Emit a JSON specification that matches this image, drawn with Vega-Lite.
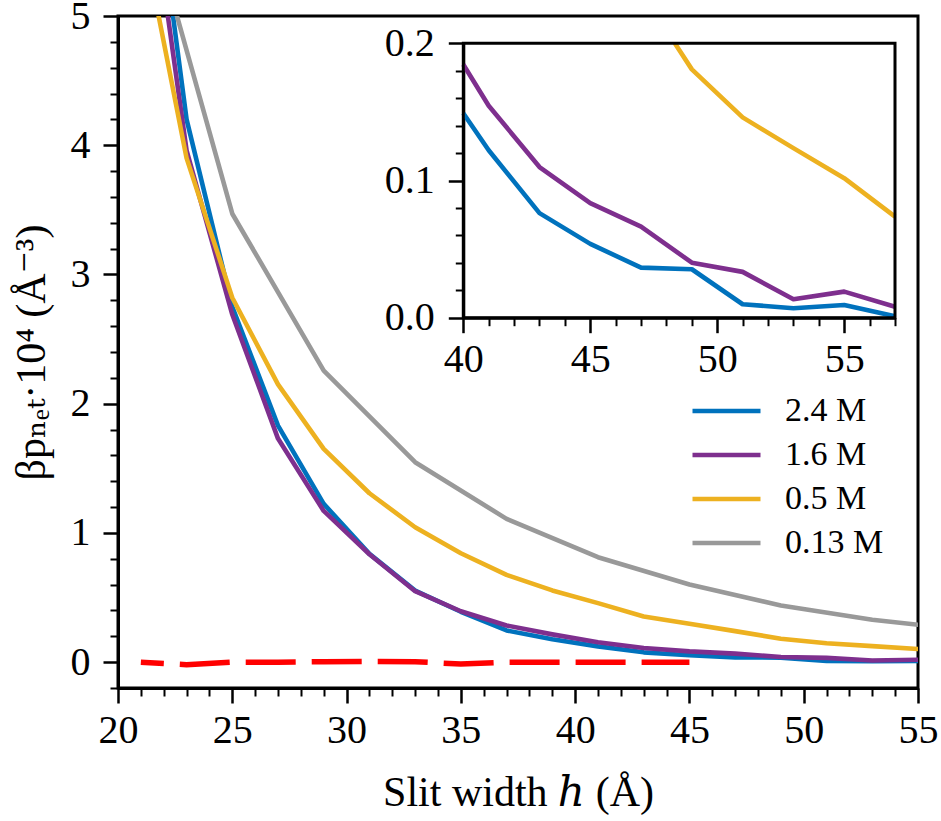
{
  "$schema": "https://vega.github.io/schema/vega-lite/v6.json",
  "autosize": "none",
  "width": 800,
  "height": 672,
  "padding": {"left": 118, "top": 16, "right": 23, "bottom": 133},
  "background": "white",
  "config": {
    "view": {"stroke": "black", "strokeWidth": 3},
    "axis": {
      "grid": false,
      "domainColor": "black",
      "domainWidth": 3,
      "tickColor": "black",
      "labelColor": "black",
      "labelFont": "Liberation Serif, DejaVu Serif",
      "labelFontSize": 40,
      "labelFlush": false,
      "labelOverlap": false,
      "labelBound": false,
      "titleFont": "Liberation Serif, DejaVu Serif",
      "titleFontSize": 42,
      "titleFontWeight": "normal",
      "titleColor": "black"
    }
  },
  "datasets": {
    "main": [
      {"h": 21, "p": 6.9, "s": "2.4 M"}, {"h": 23, "p": 4.2, "s": "2.4 M"}, {"h": 25, "p": 2.75, "s": "2.4 M"},
      {"h": 27, "p": 1.83, "s": "2.4 M"}, {"h": 29, "p": 1.225, "s": "2.4 M"}, {"h": 31, "p": 0.838, "s": "2.4 M"},
      {"h": 33, "p": 0.554, "s": "2.4 M"}, {"h": 35, "p": 0.39, "s": "2.4 M"}, {"h": 37, "p": 0.245, "s": "2.4 M"},
      {"h": 39, "p": 0.178, "s": "2.4 M"}, {"h": 41, "p": 0.122, "s": "2.4 M"}, {"h": 43, "p": 0.076, "s": "2.4 M"},
      {"h": 45, "p": 0.054, "s": "2.4 M"}, {"h": 47, "p": 0.037, "s": "2.4 M"}, {"h": 49, "p": 0.035, "s": "2.4 M"},
      {"h": 51, "p": 0.01, "s": "2.4 M"}, {"h": 53, "p": 0.007, "s": "2.4 M"}, {"h": 55, "p": 0.009, "s": "2.4 M"},
      {"h": 57, "p": 0.001, "s": "2.4 M"},
      {"h": 21, "p": 6.5, "s": "1.6 M"}, {"h": 23, "p": 3.96, "s": "1.6 M"}, {"h": 25, "p": 2.69, "s": "1.6 M"},
      {"h": 27, "p": 1.73, "s": "1.6 M"}, {"h": 29, "p": 1.17, "s": "1.6 M"}, {"h": 31, "p": 0.835, "s": "1.6 M"},
      {"h": 33, "p": 0.549, "s": "1.6 M"}, {"h": 35, "p": 0.394, "s": "1.6 M"}, {"h": 37, "p": 0.284, "s": "1.6 M"},
      {"h": 39, "p": 0.215, "s": "1.6 M"}, {"h": 41, "p": 0.154, "s": "1.6 M"}, {"h": 43, "p": 0.11, "s": "1.6 M"},
      {"h": 45, "p": 0.0835, "s": "1.6 M"}, {"h": 47, "p": 0.066, "s": "1.6 M"}, {"h": 49, "p": 0.04, "s": "1.6 M"},
      {"h": 51, "p": 0.033, "s": "1.6 M"}, {"h": 53, "p": 0.013, "s": "1.6 M"}, {"h": 55, "p": 0.019, "s": "1.6 M"},
      {"h": 57, "p": 0.008, "s": "1.6 M"},
      {"h": 21, "p": 5.7, "s": "0.5 M"}, {"h": 23, "p": 3.9, "s": "0.5 M"}, {"h": 25, "p": 2.82, "s": "0.5 M"},
      {"h": 27, "p": 2.15, "s": "0.5 M"}, {"h": 29, "p": 1.65, "s": "0.5 M"}, {"h": 31, "p": 1.307, "s": "0.5 M"},
      {"h": 33, "p": 1.044, "s": "0.5 M"}, {"h": 35, "p": 0.843, "s": "0.5 M"}, {"h": 37, "p": 0.675, "s": "0.5 M"},
      {"h": 39, "p": 0.555, "s": "0.5 M"}, {"h": 41, "p": 0.457, "s": "0.5 M"}, {"h": 43, "p": 0.353, "s": "0.5 M"},
      {"h": 45, "p": 0.297, "s": "0.5 M"}, {"h": 47, "p": 0.24, "s": "0.5 M"}, {"h": 49, "p": 0.181, "s": "0.5 M"},
      {"h": 51, "p": 0.146, "s": "0.5 M"}, {"h": 53, "p": 0.124, "s": "0.5 M"}, {"h": 55, "p": 0.102, "s": "0.5 M"},
      {"h": 57, "p": 0.074, "s": "0.5 M"},
      {"h": 21, "p": 6.0, "s": "0.13 M"}, {"h": 25, "p": 3.47, "s": "0.13 M"}, {"h": 29, "p": 2.256, "s": "0.13 M"},
      {"h": 33, "p": 1.547, "s": "0.13 M"}, {"h": 37, "p": 1.109, "s": "0.13 M"}, {"h": 41, "p": 0.812, "s": "0.13 M"},
      {"h": 45, "p": 0.601, "s": "0.13 M"}, {"h": 49, "p": 0.4385, "s": "0.13 M"}, {"h": 53, "p": 0.328, "s": "0.13 M"},
      {"h": 57, "p": 0.25, "s": "0.13 M"}
    ],
    "ideal": [
      {"h": 21, "p": 0}, {"h": 23, "p": -0.02}, {"h": 25, "p": 0}, {"h": 27, "p": 0}, {"h": 29, "p": 0.004},
      {"h": 31, "p": 0.005}, {"h": 33, "p": 0.004}, {"h": 35, "p": -0.015}, {"h": 37, "p": 0}, {"h": 39, "p": 0},
      {"h": 41, "p": 0}, {"h": 43, "p": 0}, {"h": 45, "p": 0}
    ],
    "inset": [
      {"h": 40, "p": 0.149, "s": "2.4 M"}, {"h": 41, "p": 0.122, "s": "2.4 M"}, {"h": 43, "p": 0.0762, "s": "2.4 M"},
      {"h": 45, "p": 0.0538, "s": "2.4 M"}, {"h": 47, "p": 0.0365, "s": "2.4 M"}, {"h": 49, "p": 0.0353, "s": "2.4 M"},
      {"h": 51, "p": 0.0098, "s": "2.4 M"}, {"h": 53, "p": 0.0069, "s": "2.4 M"}, {"h": 55, "p": 0.0093, "s": "2.4 M"},
      {"h": 57, "p": 0.001, "s": "2.4 M"},
      {"h": 40, "p": 0.1845, "s": "1.6 M"}, {"h": 41, "p": 0.1545, "s": "1.6 M"}, {"h": 43, "p": 0.1098, "s": "1.6 M"},
      {"h": 45, "p": 0.0835, "s": "1.6 M"}, {"h": 47, "p": 0.0664, "s": "1.6 M"}, {"h": 49, "p": 0.0401, "s": "1.6 M"},
      {"h": 51, "p": 0.0334, "s": "1.6 M"}, {"h": 53, "p": 0.0134, "s": "1.6 M"}, {"h": 55, "p": 0.019, "s": "1.6 M"},
      {"h": 57, "p": 0.008, "s": "1.6 M"},
      {"h": 48.33, "p": 0.2, "s": "0.5 M"}, {"h": 49, "p": 0.181, "s": "0.5 M"}, {"h": 51, "p": 0.146, "s": "0.5 M"},
      {"h": 53, "p": 0.1236, "s": "0.5 M"}, {"h": 55, "p": 0.1017, "s": "0.5 M"}, {"h": 57, "p": 0.0737, "s": "0.5 M"}
    ]
  },
  "layer": [
    {
      "layer": [
        {
          "data": {"name": "main"},
          "mark": {"type": "line", "strokeWidth": 4.6, "clip": true, "strokeJoin": "round"},
          "encoding": {
            "x": {
              "field": "h", "type": "quantitative",
              "scale": {"domain": [20, 55], "nice": false, "zero": false},
              "axis": {
                "orient": "bottom",
                "title": "Slit width ℎ (Å)",
                "values": [20, 25, 30, 35, 40, 45, 50, 55],
                "format": "d",
                "tickSize": 15,
                "tickWidth": 2.5,
                "labelPadding": 7,
                "titlePadding": 22
              }
            },
            "y": {
              "field": "p", "type": "quantitative",
              "scale": {"domain": [-0.2, 5], "nice": false, "zero": false},
              "axis": {
                "orient": "left",
                "title": "βpₙₑₜ·10⁴ (Å⁻³)",
                "values": [0, 1, 2, 3, 4, 5],
                "format": "d",
                "tickSize": 15,
                "tickWidth": 2.5,
                "labelPadding": 13,
                "titlePadding": 17
              }
            },
            "color": {
              "field": "s", "type": "nominal",
              "scale": {
                "domain": ["2.4 M", "1.6 M", "0.5 M", "0.13 M"],
                "range": ["#0072BD", "#7E2F8E", "#EDB120", "#999999"]
              },
              "legend": {
                "title": null,
                "orient": "none",
                "legendX": 572,
                "legendY": 373,
                "padding": 0,
                "symbolType": "stroke",
                "symbolSize": 4624,
                "symbolStrokeWidth": 4.5,
                "clipHeight": 44,
                "rowPadding": 0,
                "labelFont": "Liberation Serif, DejaVu Serif",
                "labelFontSize": 34,
                "labelColor": "black",
                "labelOffset": 22
              }
            }
          }
        },
        {
          "data": {"name": "ideal"},
          "mark": {"type": "line", "strokeWidth": 5.5, "color": "#FF0000", "strokeDash": [50, 16], "strokeDashOffset": 27, "clip": true},
          "encoding": {
            "x": {
              "field": "h", "type": "quantitative",
              "axis": {
                "orient": "bottom",
                "title": null,
                "values": [21,22,23,24,26,27,28,29,31,32,33,34,36,37,38,39,41,42,43,44,46,47,48,49,51,52,53,54],
                "labels": false,
                "domain": false,
                "tickSize": 8,
                "tickWidth": 2
              }
            },
            "y": {
              "field": "p", "type": "quantitative",
              "axis": {
                "orient": "left",
                "title": null,
                "values": [-0.2,0.2,0.4,0.6,0.8,1.2,1.4,1.6,1.8,2.2,2.4,2.6,2.8,3.2,3.4,3.6,3.8,4.2,4.4,4.6,4.8],
                "labels": false,
                "domain": false,
                "tickSize": 8,
                "tickWidth": 2
              }
            }
          }
        }
      ],
      "resolve": {"axis": {"x": "independent", "y": "independent"}}
    },
    {
      "layer": [
        {
          "data": {"name": "inset"},
          "mark": {"type": "line", "strokeWidth": 4.6, "strokeJoin": "round"},
          "encoding": {
            "x": {
              "field": "h", "type": "quantitative",
              "scale": {"domain": [40, 57], "nice": false, "zero": false, "range": [345.3, 777]},
              "axis": {
                "orient": "bottom",
                "offset": -370.3,
                "title": null,
                "values": [40, 45, 50, 55],
                "format": "d",
                "tickSize": 15,
                "tickWidth": 2.5,
                "labelPadding": 7
              }
            },
            "y": {
              "field": "p", "type": "quantitative",
              "scale": {"domain": [0, 0.2], "nice": false, "zero": false, "range": [301.7, 27.3]},
              "axis": {
                "orient": "left",
                "offset": -345.3,
                "title": null,
                "values": [0, 0.1, 0.2],
                "format": ".1f",
                "tickSize": 15,
                "tickWidth": 2.5,
                "labelPadding": 14
              }
            },
            "color": {
              "field": "s", "type": "nominal",
              "scale": {
                "domain": ["2.4 M", "1.6 M", "0.5 M", "0.13 M"],
                "range": ["#0072BD", "#7E2F8E", "#EDB120", "#999999"]
              }
            }
          }
        },
        {
          "data": {"values": [{}]},
          "mark": {"type": "rect", "filled": false, "stroke": "black", "strokeWidth": 3},
          "encoding": {
            "x": {
              "datum": 40, "type": "quantitative",
              "axis": {
                "orient": "bottom",
                "offset": -370.3,
                "title": null,
                "values": [41,42,43,44,46,47,48,49,51,52,53,54,56,57],
                "labels": false,
                "domain": false,
                "tickSize": 8,
                "tickWidth": 2
              }
            },
            "x2": {"datum": 57},
            "y": {
              "datum": 0, "type": "quantitative",
              "axis": {
                "orient": "left",
                "offset": -345.3,
                "title": null,
                "values": [0.02, 0.04, 0.06, 0.08, 0.12, 0.14, 0.16, 0.18],
                "labels": false,
                "domain": false,
                "tickSize": 8,
                "tickWidth": 2
              }
            },
            "y2": {"datum": 0.2}
          }
        }
      ],
      "resolve": {"axis": {"x": "independent", "y": "independent"}}
    }
  ],
  "resolve": {"scale": {"x": "independent", "y": "independent"}}
}
